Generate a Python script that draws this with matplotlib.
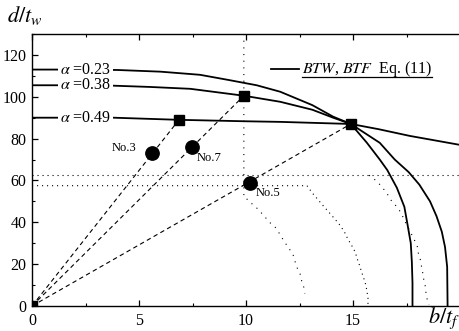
import numpy as np
import matplotlib
matplotlib.use("Agg")
import matplotlib.pyplot as plt
from matplotlib.ticker import MultipleLocator

plt.rcParams['font.family'] = ['Liberation Serif', 'DejaVu Serif']
plt.rcParams['mathtext.fontset'] = 'stix'

# BTW, BTF curves, Eq. (11)
a023_x = [0, 2, 4, 6, 7.85, 9.2, 10.5, 11.6, 13.1, 14.07, 14.9, 15.65, 16.25, 16.6, 17.05, 17.4, 17.55, 17.7, 17.75, 17.78, 17.78]
a023_y = [113, 113, 112.8, 112, 110.5, 108, 105.5, 102.4, 96, 90.5, 87, 78, 70, 65, 56.5, 47.4, 38.8, 30, 21, 11, 0]
a038_x = [0, 2, 3.8, 5.5, 7.4, 9.9, 11.6, 13.1, 14.07, 14.9, 16.25, 16.95, 17.6, 18.1, 18.6, 18.9, 19.15, 19.3, 19.4, 19.42]
a038_y = [105.5, 105.5, 105.3, 104.7, 103.8, 100.5, 97.6, 93.8, 90, 87, 78, 70, 64, 58, 50, 43, 35.5, 28.2, 18.7, 0]
a049_x = [0, 3.8, 6.8, 9.9, 11.6, 14.9, 16.2, 17.65, 18.8, 20]
a049_y = [90, 90, 89, 88.3, 88, 87, 84.5, 81.3, 79.2, 77]
alpha_labels = ['0.23', '0.38', '0.49']
alpha_label_y = [113, 105.5, 90]

# squares (limits) and specimens
sq_x = [0, 6.87, 9.9, 14.9]
sq_y = [0, 89, 100.5, 87]
spec_names = ['No.3', 'No.7', 'No.5']
spec_x = [5.6, 7.48, 10.2]
spec_y = [73.2, 76, 58.8]

# dotted guide lines / curves
vline_x = [9.9, 9.9, 9.95, 10.23, 10.55, 10.85, 11.1, 11.4, 11.6, 11.8, 12.0, 12.2, 12.3, 12.4, 12.55, 12.6, 12.7, 12.75]
vline_y = [130, 52, 52, 49.3, 46.4, 43, 40, 37.3, 34, 30.6, 27.7, 24.4, 21, 18, 14.8, 12, 9, 6]
h1_x = [0, 20]
h1_y = [62.5, 62.5]
h2_x = [0, 12.85, 13.1, 13.35, 13.6, 13.9, 14.15, 14.4, 14.6, 14.75, 14.95, 15.1, 15.2, 15.3, 15.4, 15.5, 15.6, 15.65, 15.7, 15.7]
h2_y = [57.5, 57.5, 54, 51, 48, 44.5, 41.6, 38.5, 35.4, 32.2, 28.7, 25.8, 22.5, 19.6, 16.3, 13.4, 10, 7.2, 3.8, 1]
c3_x = [15.75, 16.07, 16.35, 16.6, 16.8, 17.05, 17.25, 17.4, 17.55, 17.7, 17.85, 18.0, 18.05, 18.15, 18.2, 18.25, 18.3, 18.37, 18.4, 18.45, 18.55]
c3_y = [62.5, 60, 57, 53.6, 50.2, 47.4, 44.5, 41, 38, 35, 32, 28.7, 25.4, 22, 19, 16.3, 13, 10, 7, 3.8, 0.5]

fig = plt.figure(figsize=(4.59, 3.31), dpi=100)
ax = fig.add_axes([32/459, 25/331, 428/459, 272/331])

ax.plot(a023_x, a023_y, 'k-', lw=1.3)
ax.plot(a038_x, a038_y, 'k-', lw=1.3)
ax.plot(a049_x, a049_y, 'k-', lw=1.3)

for lab, ly in zip(alpha_labels, alpha_label_y):
    ax.text(1.3, ly, r'$\alpha$' + ' =' + lab, fontsize=11.5, va='center', ha='left',
            bbox=dict(facecolor='white', edgecolor='none', pad=1.5), zorder=5)

dot_curve = (0, (1, 5))
ax.plot(vline_x, vline_y, color='k', lw=0.8, ls=dot_curve)
ax.plot(h1_x, h1_y, color='k', lw=0.8, ls=(0, (1, 3.5)))
ax.plot(h2_x, h2_y, color='k', lw=0.8, ls=(0, (1, 3.5)))
ax.plot(c3_x, c3_y, color='k', lw=0.8, ls=dot_curve)

for x, y in zip(sq_x[1:], sq_y[1:]):
    ax.plot([0, x], [0, y], color='k', lw=0.8, ls=(0, (4, 3)))

ax.plot(sq_x, sq_y, 's', color='k', ms=6.7, ls='none', zorder=6)
ax.plot(spec_x, spec_y, 'o', color='k', ms=9.6, ls='none', zorder=6)

ax.text(4.28, 75.6, spec_names[0], fontsize=9, ha='center', va='center')
ax.text(7.7, 70.8, spec_names[1], fontsize=9, ha='left', va='center')
ax.text(10.47, 54, spec_names[2], fontsize=9, ha='left', va='center')

# legend entry
ax.plot([0.558, 0.623], [0.87, 0.87], transform=ax.transAxes, color='k', lw=1.3)
leg = ax.text(0.63, 0.87, r'$BTW$, $BTF$  Eq. (11)', transform=ax.transAxes,
              fontsize=11.5, va='center', ha='left')
fig.canvas.draw()
bb = leg.get_window_extent().transformed(ax.transAxes.inverted())
ax.plot([bb.x0, bb.x1], [bb.y0 + 0.01, bb.y0 + 0.01], transform=ax.transAxes, color='k', lw=0.9)

ax.set_xlim(0, 20)
ax.set_ylim(0, 130)
ax.xaxis.set_major_locator(MultipleLocator(5))
ax.xaxis.set_minor_locator(MultipleLocator(2.5))
ax.yaxis.set_major_locator(MultipleLocator(20))
ax.yaxis.set_minor_locator(MultipleLocator(10))
ax.set_xticks([0, 5, 10, 15])
ax.tick_params(which='both', direction='in', top=True, right=False, labelsize=11.5)
ax.tick_params(which='major', length=4.3, width=0.9)
ax.tick_params(which='minor', length=2.2, width=0.8)
ax.tick_params(axis='y', pad=4)
ax.tick_params(axis='x', pad=5)
ax.spines['right'].set_visible(False)
for s in ['left', 'bottom', 'top']:
    ax.spines[s].set_linewidth(1.0)

fig.text(7/459, 1 - 22/331, r'$d/t_w$', fontsize=16, ha='left', va='baseline')
fig.text(428/459, 1 - 323/331, r'$b/t_f$', fontsize=16, ha='left', va='baseline')

fig.savefig('out.png', dpi=100)
